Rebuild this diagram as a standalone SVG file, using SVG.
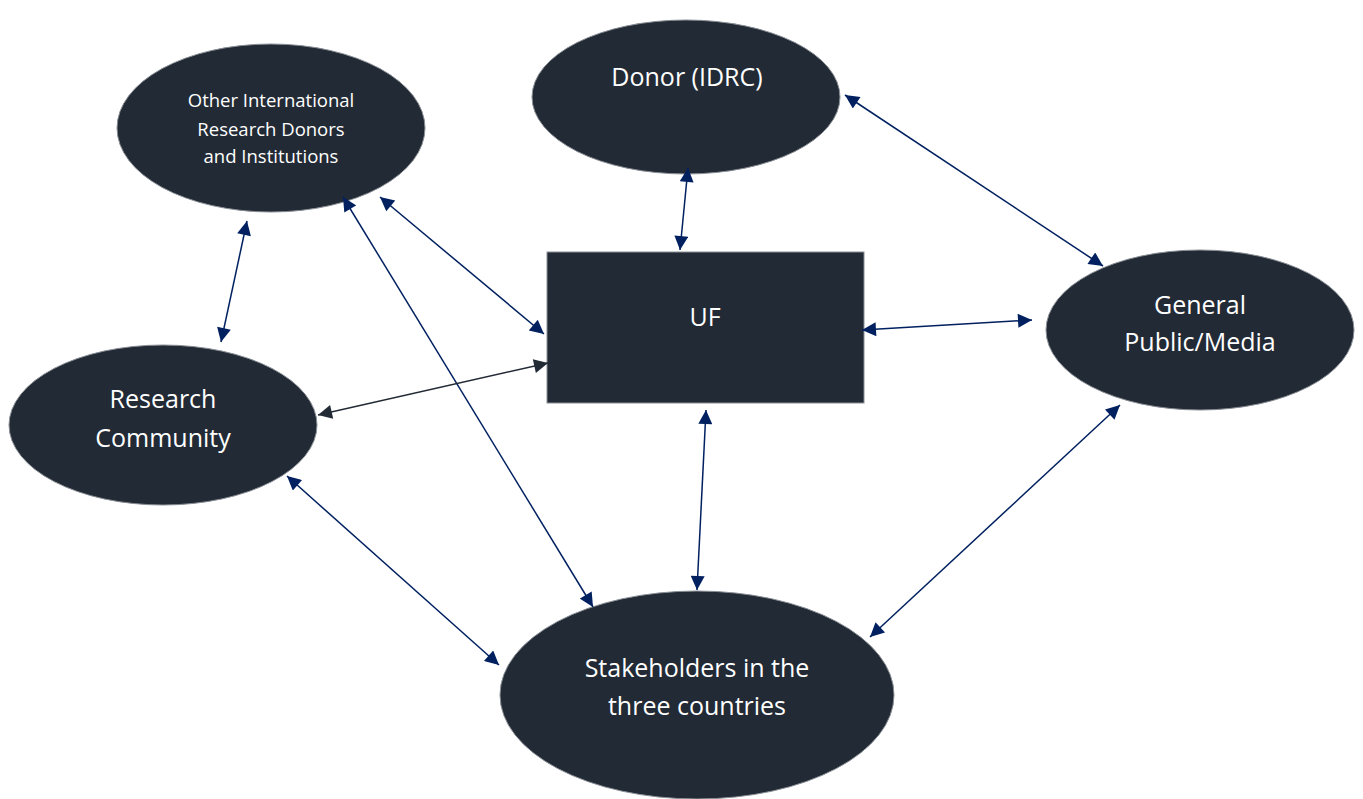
<svg xmlns="http://www.w3.org/2000/svg" width="1363" height="799" viewBox="0 0 1363 799">
<style>
.n{fill:#222a35;stroke:#8a8f96;stroke-width:1}
.t{fill:#ffffff;font-family:"Open Sans","Noto Sans",sans-serif;text-anchor:middle}
.c{stroke:#002060;stroke-width:1.5;fill:none;marker-start:url(#a);marker-end:url(#a)}
.g{stroke:#222a35;stroke-width:1.5;fill:none;marker-start:url(#b);marker-end:url(#b)}
</style>
<defs>
<marker id="a" viewBox="0 0 10 10" refX="10" refY="5" markerWidth="16" markerHeight="14" markerUnits="userSpaceOnUse" orient="auto-start-reverse"><path d="M0,0L10,5L0,10z" fill="#002060"/></marker>
<marker id="b" viewBox="0 0 10 10" refX="10" refY="5" markerWidth="16" markerHeight="14" markerUnits="userSpaceOnUse" orient="auto-start-reverse"><path d="M0,0L10,5L0,10z" fill="#222a35"/></marker>
</defs>
<rect width="1363" height="799" fill="#ffffff"/>
<g id="other"><ellipse class="n" cx="271" cy="128" rx="154" ry="84"/>
<text class="t" font-size="18.5"><tspan x="271" y="107">Other International</tspan><tspan x="271" y="136">Research Donors</tspan><tspan x="271" y="163">and Institutions</tspan></text></g>
<g id="donor"><ellipse class="n" cx="686" cy="97" rx="154" ry="77"/>
<text class="t" font-size="25" x="687" y="86">Donor (IDRC)</text></g>
<g id="uf"><rect class="n" x="547" y="252" width="317" height="151"/>
<text class="t" font-size="25" x="705" y="326">UF</text></g>
<g id="public"><ellipse class="n" cx="1200" cy="330" rx="154" ry="80"/>
<text class="t" font-size="25"><tspan x="1200" y="314">General</tspan><tspan x="1200" y="351">Public/Media</tspan></text></g>
<g id="research"><ellipse class="n" cx="163" cy="425" rx="154" ry="80"/>
<text class="t" font-size="25"><tspan x="163" y="408">Research</tspan><tspan x="163" y="447">Community</tspan></text></g>
<g id="stake"><ellipse class="n" cx="697" cy="695" rx="197" ry="104"/>
<text class="t" font-size="25"><tspan x="697" y="677">Stakeholders in the</tspan><tspan x="697" y="715">three countries</tspan></text></g>
<g id="connectors">
<line class="c" x1="688" y1="168" x2="680" y2="250"/>
<line class="c" x1="845" y1="95" x2="1103" y2="266"/>
<line class="c" x1="247" y1="221" x2="221" y2="342"/>
<line class="c" x1="380" y1="197" x2="544" y2="334"/>
<line class="c" x1="343" y1="197" x2="593" y2="607"/>
<line class="g" x1="318" y1="415" x2="548" y2="363"/>
<line class="c" x1="862" y1="330" x2="1032" y2="320"/>
<line class="c" x1="706" y1="410" x2="697" y2="590"/>
<line class="c" x1="287" y1="476" x2="499" y2="665"/>
<line class="c" x1="1120" y1="405" x2="870" y2="637"/>
</g>
</svg>
